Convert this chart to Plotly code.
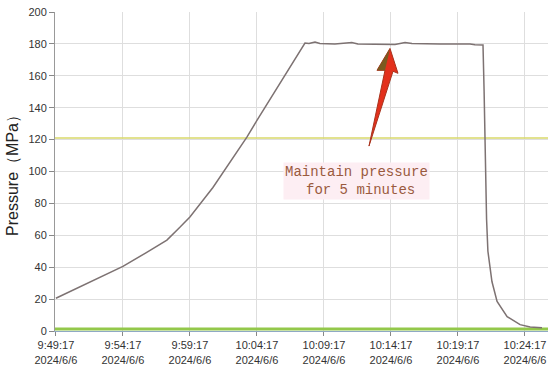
import plotly.graph_objects as go

## -- Data -- ##
day = "2024-06-06 "

rise_times = ["09:49:17", "09:51:45", "09:54:17", "09:56:00", "09:57:34", "09:58:32",
              "09:59:17", "10:01:00", "10:03:32", "10:04:17", "10:06:00", "10:07:52"]
rise_mpa = [20.5, 30.5, 40.5, 49, 57, 65, 71.5, 90, 121.5, 132, 155, 180.5]

hold_times = ["10:08:10", "10:08:37", "10:08:59", "10:10:06", "10:11:22", "10:11:49",
              "10:13:05", "10:14:35", "10:15:20", "10:15:51", "10:17:57", "10:20:11",
              "10:20:33", "10:21:09"]
hold_mpa = [180.2, 181.2, 180.3, 180.0, 180.8, 180.0, 179.8, 179.6, 180.9, 180.3,
            180.0, 180.0, 179.5, 179.3]

drop_times = ["10:21:14", "10:21:18", "10:21:25", "10:21:31", "10:21:49", "10:22:12",
              "10:22:57", "10:23:55", "10:24:40", "10:25:33"]
drop_mpa = [150, 110, 70, 50, 31, 18.6, 9, 4, 2.5, 2]

ref_line_mpa = 121      # yellow reference line
base_line_mpa = 1.2     # green line near zero

tick_times = ["09:49:17", "09:54:17", "09:59:17", "10:04:17",
              "10:09:17", "10:14:17", "10:19:17", "10:24:17"]
tick_date = "2024/6/6"

x_start, x_end = "09:49:13", "10:26:00"

times = [day + t for t in rise_times + hold_times + drop_times]
pressure = rise_mpa + hold_mpa + drop_mpa

## -- Pixel helpers for the decorations (plot area is 55..548 x 11.5..331.5) -- ##
L, R, T, B = 55, 548, 11.5, 331.5

def px(x, y):
    return (x - L) / (R - L), (B - y) / (B - T)

def poly(points):
    pts = [px(*p) for p in points]
    return "M " + " L ".join(f"{a:.4f},{b:.4f}" for a, b in pts) + " Z"

fig = go.Figure()

x_span = [day + x_start, day + x_end]
fig.add_trace(go.Scatter(x=x_span, y=[ref_line_mpa] * 2, mode="lines",
                         line=dict(color="#d9d96a", width=1.6), hoverinfo="skip"))
fig.add_trace(go.Scatter(x=x_span, y=[base_line_mpa] * 2, mode="lines",
                         line=dict(color="#93c84a", width=3), hoverinfo="skip"))
fig.add_trace(go.Scatter(x=times, y=pressure, mode="lines",
                         line=dict(color="#7d7272", width=1.5)))

## -- Arrow pointing at the plateau -- ##
fig.add_shape(type="path", xref="paper", yref="paper",
              path=poly([(390, 48), (398, 73), (393, 71), (369, 146), (385, 70), (377, 70)]),
              fillcolor="#e3301c", line=dict(color="#a8321c", width=1))
fig.add_shape(type="path", xref="paper", yref="paper",
              path=poly([(390, 48), (385, 70), (377, 70)]),
              fillcolor="#7a5a20", line=dict(width=0))

fig.add_annotation(xref="paper", yref="paper", x=px(356, 0)[0], y=px(0, 181)[1],
                   text="Maintain pressure<br> for 5 minutes", showarrow=False,
                   font=dict(family="Liberation Mono", size=14, color="#9a5a3e"),
                   bgcolor="#fdeef3", align="center")

fig.update_layout(
    width=550, height=376,
    margin=dict(l=L, r=550 - R, t=T, b=376 - B),
    paper_bgcolor="white", plot_bgcolor="white",
    showlegend=False,
    font=dict(family="Liberation Sans", size=11, color="#333333"),
)

fig.update_xaxes(
    range=x_span, automargin=False,
    tickvals=[day + t for t in tick_times],
    ticktext=[f"{t.lstrip('0')}<br>{tick_date}" for t in tick_times],
    showgrid=True, gridcolor="#dedede", gridwidth=1,
    ticks="outside", ticklen=4, tickcolor="#888888",
    showline=True, linecolor="#8fa9c4", linewidth=1,
    zeroline=False, tickfont=dict(size=11),
)
fig.update_yaxes(
    range=[0, 200], dtick=20, automargin=False,
    showgrid=True, gridcolor="#dedede", gridwidth=1,
    ticks="outside", ticklen=5, tickcolor="#888888",
    showline=True, linecolor="#999999", linewidth=1,
    zeroline=False, tickfont=dict(size=11),
    title=dict(text="Pressure（MPa）", font=dict(family="Liberation Sans", size=16, color="#222222"),
               standoff=5),
)

# page margin off so the 550x376 figure fills the window exactly
fig.write_html("out.html", config={"displayModeBar": False},
               post_script="document.body.style.margin='0';")
